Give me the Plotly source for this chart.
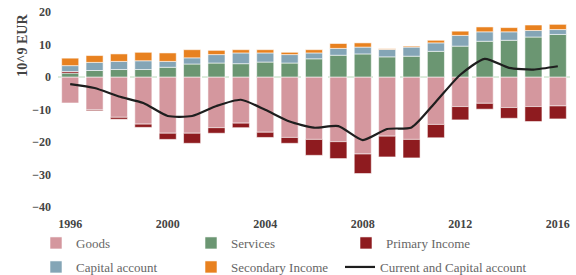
import plotly.graph_objects as go

years = list(range(1996, 2017))
goods = [-8.0, -10.1, -12.4, -14.5, -17.3, -17.3, -15.6, -14.2, -17.0, -18.6, -19.2,
         -19.9, -23.7, -18.2, -19.2, -14.6, -9.1, -8.1, -9.4, -9.1, -8.9]
services = [1.2, 2.0, 2.3, 2.3, 3.0, 4.0, 4.3, 4.1, 4.6, 4.3, 5.6,
            6.7, 7.1, 6.2, 6.4, 7.9, 9.5, 11.0, 11.3, 12.3, 13.1]
primary_income = [0.5, -0.3, -0.6, -1.0, -1.9, -3.1, -1.7, -1.4, -1.6, -1.8, -4.9,
                  -5.2, -6.0, -6.4, -5.7, -4.1, -4.1, -1.8, -3.3, -4.6, -4.0]
capital_account = [1.8, 2.5, 2.5, 2.7, 1.8, 1.9, 2.6, 3.3, 2.8, 2.6, 1.8,
                   2.1, 2.1, 2.3, 2.8, 2.6, 3.3, 2.9, 2.6, 2.0, 1.5]
secondary_income = [2.3, 2.1, 2.3, 2.6, 2.6, 2.5, 1.3, 1.0, 1.0, 0.7, 1.0,
                    1.5, 1.3, 0.2, 0.3, 0.8, 1.3, 1.5, 1.3, 1.7, 1.6]
current_capital = [-2.2, -3.4, -6.0, -8.0, -12.0, -12.0, -8.9, -7.0, -10.1, -13.7, -15.6,
                   -15.1, -19.4, -16.0, -15.5, -7.6, 0.7, 5.6, 2.8, 2.3, 3.3]
tick_years = [1996, 2000, 2004, 2008, 2012, 2016]
y_ticks = [20, 10, 0, -10, -20, -30, -40]

serif = "Liberation Serif"
bar_series = [
    ("Goods", goods, "#D4979E", "legend"),
    ("Services", services, "#6B9672", "legend"),
    ("Primary Income", primary_income, "#8E1B1F", "legend"),
    ("Capital account", capital_account, "#84A5B6", "legend2"),
    ("Secondary Income", secondary_income, "#E8811F", "legend2"),
]

fig = go.Figure()
for name, vals, col, lg in bar_series:
    fig.add_trace(go.Bar(
        x=years, y=vals, name=name, marker_color=col, legend=lg,
        marker_line=dict(color="rgba(255,255,255,0.7)", width=0.8),
        width=0.7,
    ))
fig.add_trace(go.Scatter(
    x=years, y=current_capital, name="Current and Capital account", mode="lines",
    legend="legend3",
    line=dict(color="#1E1E1E", width=2.2, shape="spline", smoothing=0.6),
))

fig.add_hline(y=0, line=dict(color="#B8D8B8", width=1, dash="dash"), layer="below")

legend_common = dict(orientation="h", xanchor="left", yanchor="top",
                     xref="container", yref="container",
                     entrywidthmode="pixels", traceorder="normal",
                     font=dict(family=serif, size=13, color="#666666"),
                     itemwidth=30, tracegroupgap=0, bgcolor="rgba(0,0,0,0)")

lx = 36
fig.update_layout(
    width=576, height=275,
    barmode="relative",
    plot_bgcolor="white", paper_bgcolor="white",
    margin=dict(l=58, r=6, t=12, b=68, autoexpand=False),
    font=dict(family=serif, color="#555555"),
    xaxis=dict(range=[1995.5, 2016.5], tickvals=tick_years, showgrid=False,
               zeroline=False, showline=False, ticks="", ticklabelstandoff=8,
               automargin=False,
               tickfont=dict(family=serif, size=12, color="#444444", weight="bold")),
    yaxis=dict(range=[-40, 20], tickvals=y_ticks, showgrid=False, zeroline=False,
               showline=False, ticks="", ticklabelstandoff=6, automargin=False,
               tickfont=dict(family=serif, size=12, color="#444444", weight="bold")),
    legend=dict(x=lx / 576, y=1 - 228 / 275, entrywidth=110, **legend_common),
    legend2=dict(x=lx / 576, y=1 - 252 / 275, entrywidth=110, **legend_common),
    legend3=dict(x=(lx + 2 * 152) / 576, y=1 - 252 / 275, entrywidth=0, **legend_common),
    annotations=[dict(text="10^9 EUR", textangle=-90, xref="paper", yref="paper",
                      x=-0.07, y=1.0, xanchor="center", yanchor="top",
                      showarrow=False,
                      font=dict(family=serif, size=14, color="#444444", weight="bold"))],
)

fig.write_html("out.html", post_script="document.body.style.margin='0';",
               config={"displayModeBar": False})
